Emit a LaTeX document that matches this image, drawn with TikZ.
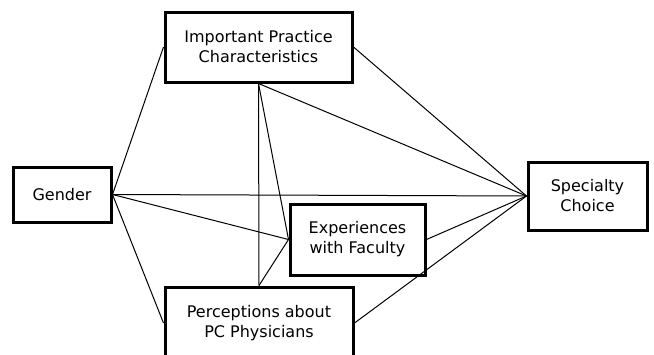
\documentclass[tikz,border=0pt]{standalone}
\usepackage{fontspec}
\setmainfont{DejaVu Sans}
\begin{document}
\begin{tikzpicture}[x=1pt,y=-1pt,
  box/.style={draw,line width=3pt,align=center,inner sep=0pt,font=\fontsize{16}{20}\selectfont},
  link/.style={line width=1pt}]
\useasboundingbox[fill=white] (0,0) rectangle (654,354);
\node[box,minimum width=187pt,minimum height=70pt] (ipc) at (258.5,47) {Important Practice\\Characteristics};
\node[box,minimum width=98pt,minimum height=55pt] (gen) at (62,194.5) {Gender};
\node[box,minimum width=135pt,minimum height=71pt] (exp) at (357.5,239.5) {Experiences\\with Faculty};
\node[box,minimum width=188pt,minimum height=72pt] (per) at (259,323) {Perceptions about\\PC Physicians};
\node[box,minimum width=119pt,minimum height=68pt] (spe) at (587.5,196) {Specialty\\Choice};
\draw[link] (gen.east) -- (ipc.west);
\draw[link] (gen.east) -- (per.west);
\draw[link] (gen.east) -- (spe.west);
\draw[link] (gen.east) -- (exp.west);
\draw[link] (ipc.south) -- (per.north);
\draw[link] (ipc.south) -- (exp.west);
\draw[link] (ipc.south) -- (spe.west);
\draw[link] (ipc.east) -- (spe.west);
\draw[link] (per.north) -- (exp.west);
\draw[link] (exp.east) -- (spe.west);
\draw[link] (per.east) -- (spe.west);
\end{tikzpicture}
\end{document}
